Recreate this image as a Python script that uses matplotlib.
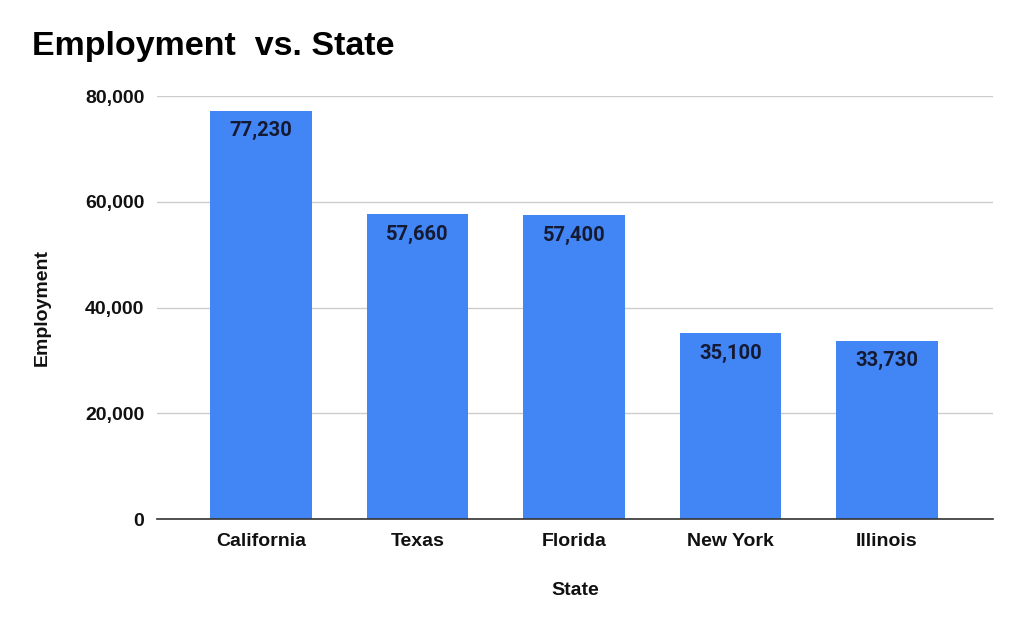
import matplotlib.pyplot as plt
from matplotlib.ticker import FuncFormatter

plt.rcParams['font.family'] = ['Liberation Sans', 'DejaVu Sans']

# data
states = ["California", "Texas", "Florida", "New York", "Illinois"]
employment = [77230, 57660, 57400, 35100, 33730]
y_ticks = [0, 20000, 40000, 60000, 80000]

fig = plt.figure(figsize=(10.24, 6.33), dpi=100)
ax = fig.add_axes([157 / 1024, 1 - 519 / 633, (993 - 157) / 1024, (519 - 96) / 633])

x = range(len(states))
bars = ax.bar(x, employment, width=0.65, color="#4285F4", zorder=2)

# value labels inside top of bars
for b, v in zip(bars, employment):
    ax.text(b.get_x() + b.get_width() / 2, v - 2000, f"{v:,}",
            ha="center", va="top", fontsize=14.5, fontweight="bold",
            color="#151a33", family=["Roboto", "DejaVu Sans"])

ax.set_xlim(-0.665, 4.677)
ax.set_ylim(0, 80000)
ax.set_yticks(y_ticks)
ax.yaxis.set_major_formatter(FuncFormatter(lambda v, p: f"{int(v):,}"))
ax.set_xticks(list(x))
ax.set_xticklabels(states)

ax.grid(axis="y", color="#cccccc", linewidth=1, zorder=0)
for s in ["top", "right", "left"]:
    ax.spines[s].set_visible(False)
ax.spines["bottom"].set_color("#333333")
ax.spines["bottom"].set_linewidth(1.2)
ax.tick_params(axis="both", length=0, labelsize=14, colors="#111111")
ax.tick_params(axis="x", pad=10)
ax.tick_params(axis="y", pad=9)
for lbl in ax.get_xticklabels() + ax.get_yticklabels():
    lbl.set_fontweight("bold")

ax.set_xlabel("State", fontsize=14, fontweight="bold", labelpad=23, color="#111111")
ax.set_ylabel("Employment", fontsize=14, fontweight="bold", labelpad=25, color="#111111")

fig.text(32 / 1024, 1 - 47 / 633, "Employment  vs. State", fontsize=24.5,
         fontweight="bold", va="center", ha="left", color="#000000")

fig.savefig("out.png", dpi=100)
